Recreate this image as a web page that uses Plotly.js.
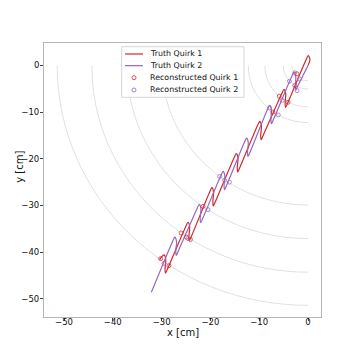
<!DOCTYPE html>
<html>
<head>
<meta charset="utf-8">
<script src="https://cdn.plot.ly/plotly-3.0.1.min.js"></script>
<style>
  html, body { margin: 0; padding: 0; background: #fff; }
  #chart { width: 357px; height: 357px; }
</style>
</head>
<body>
<div id="chart"></div>
<script>
// Detector layer radii (cm)
const layerRadii = [3.3, 5.05, 8.85, 12.25, 29.9, 37.1, 44.3, 51.4];

// Truth trajectories, points along the curves (cm)
const truth1X = [0, 0.4, 0.05, -0.4,
    -4.15, -4.6, -4.7, -4.57, -4.92, -5.37,
    -9.15, -9.6, -9.7, -9.55, -9.9, -10.35,
    -13.95, -14.4, -14.5, -14.35, -14.7, -15.15,
    -18.95, -19.4, -19.5, -19.35, -19.7, -20.15,
    -23.85, -24.3, -24.4, -24.25, -24.6, -25.05,
    -28.75, -29.2, -29.3, -29.15, -29.5, -30.0, -30.4];
const truth1Y = [0, 1.2, 2.1, 1.2,
    -8.0, -9.0, -8.1, -6.04, -5.14, -6.04,
    -14.9, -15.9, -15.0, -12.9, -12.0, -12.9,
    -21.8, -22.8, -21.9, -19.8, -18.9, -19.8,
    -29.1, -30.1, -29.2, -27.1, -26.2, -27.1,
    -36.5, -37.5, -36.6, -34.5, -33.6, -34.5,
    -43.5, -44.5, -43.6, -41.5, -40.6, -41.0, -41.6];
const truth2X = [0, -2.05, -2.5, -2.6, -2.52, -2.87, -3.32,
    -7.05, -7.5, -7.6, -7.51, -7.86, -8.31,
    -11.85, -12.3, -12.4, -12.25, -12.6, -13.05,
    -16.65, -17.1, -17.2, -17.05, -17.4, -17.85,
    -21.55, -22.0, -22.1, -21.95, -22.3, -22.75,
    -26.55, -27.0, -27.1, -26.95, -27.3, -27.75,
    -32.1];
const truth2Y = [0, -4.3, -5.3, -4.4, -2.33, -1.43, -2.33,
    -11.5, -12.5, -11.6, -9.47, -8.57, -9.47,
    -18.5, -19.5, -18.6, -16.5, -15.6, -16.5,
    -25.6, -26.6, -25.7, -23.6, -22.7, -23.6,
    -32.7, -33.7, -32.8, -30.7, -29.8, -30.7,
    -39.7, -40.7, -39.8, -37.7, -36.8, -37.7,
    -48.6];

// Reconstructed hits (cm)
const reco1X = [-2.25, -2.7, -5.9, -4.1, -7.2, -21.5, -26.0, -24.9, -24.1, -30.2, -28.5];
const reco1Y = [-1.8, -4.3, -6.6, -7.9, -10.0, -30.2, -35.9, -36.8, -37.3, -41.4, -42.9];
const reco2X = [-2.7, -3.8, -1.7, -2.25, -7.9, -6.1, -5.3, -18.1, -17.1, -16.1, -20.5, -24.6, -29.5];
const reco2Y = [-1.6, -3.4, -2.9, -5.4, -9.1, -10.6, -7.5, -23.8, -24.6, -25.0, -30.9, -37.1, -42.4];

const xTicks = [-50, -40, -30, -20, -10, 0];
const yTicks = [-50, -40, -30, -20, -10, 0];

const seriesNames = ['Truth Quirk 1', 'Truth Quirk 2', 'Reconstructed Quirk 1', 'Reconstructed Quirk 2'];

const red = '#d62728', purple = '#9467bd';
const font = 'DejaVu Sans, sans-serif';

// quarter arcs in the third quadrant, as cubic bezier paths
const k = 0.5523;
const layerShapes = layerRadii.map(r => ({
    type: 'path',
    xref: 'x', yref: 'y',
    path: `M ${-r},0 C ${-r},${-k * r} ${-k * r},${-r} 0,${-r}`,
    line: {color: '#d9d9d9', width: 0.8},
    layer: 'below'
}));

const data = [
    {x: truth1X, y: truth1Y, name: seriesNames[0], mode: 'lines',
     line: {color: red, width: 1.2, shape: 'spline', smoothing: 0.9}},
    {x: truth2X, y: truth2Y, name: seriesNames[1], mode: 'lines',
     line: {color: purple, width: 1.2, shape: 'spline', smoothing: 0.9}},
    {x: reco1X, y: reco1Y, name: seriesNames[2], mode: 'markers',
     marker: {symbol: 'circle-open', size: 4, color: red, opacity: 0.75, line: {width: 1}}},
    {x: reco2X, y: reco2Y, name: seriesNames[3], mode: 'markers',
     marker: {symbol: 'circle-open', size: 4, color: purple, opacity: 0.75, line: {width: 1}}}
];

// Compact matplotlib-like legend built from shapes and annotations (paper coords)
const legRows = [0.9599, 0.9172, 0.8734, 0.8285];
const legColors = [red, purple, red, purple];
const legendShapes = [{
    type: 'rect', xref: 'paper', yref: 'paper',
    x0: 0.2805, x1: 0.722, y0: 0.8018, y1: 0.9865,
    fillcolor: 'rgba(255,255,255,0.85)',
    line: {color: '#d6d6d6', width: 1},
    layer: 'above'
}];
legRows.forEach((yy, i) => {
    if (i < 2) {
        legendShapes.push({
            type: 'line', xref: 'paper', yref: 'paper',
            x0: 0.2924, x1: 0.3574, y0: yy, y1: yy,
            line: {color: legColors[i], width: 1.2}, layer: 'above'
        });
    } else {
        legendShapes.push({
            type: 'circle', xref: 'paper', yref: 'paper',
            xsizemode: 'pixel', ysizemode: 'pixel',
            xanchor: 0.3249, yanchor: yy,
            x0: -2, x1: 2, y0: -2, y1: 2,
            line: {color: legColors[i], width: 1}, opacity: 0.8, layer: 'above'
        });
    }
});
const legendAnnotations = legRows.map((yy, i) => ({
    xref: 'paper', yref: 'paper', x: 0.3765, y: yy,
    xanchor: 'left', yanchor: 'middle', showarrow: false,
    text: seriesNames[i],
    font: {family: font, size: 7.9, color: '#111'}
}));

const titleAnnotations = [
    {xref: 'paper', yref: 'paper', x: 0.5007, y: -0.0573,
     xanchor: 'center', yanchor: 'middle', showarrow: false,
     text: 'x [cm]', font: {family: font, size: 10, color: '#111'}},
    {xref: 'paper', yref: 'paper', x: -0.0866, y: 0.5485,
     xanchor: 'center', yanchor: 'middle', showarrow: false, textangle: -90,
     text: 'y [cm]', font: {family: font, size: 10, color: '#111'}}
];

const axisCommon = {
    showgrid: false,
    zeroline: false,
    showline: true,
    mirror: true,
    linecolor: '#b5b5b5',
    linewidth: 1,
    ticks: 'outside',
    ticklen: 3,
    tickcolor: '#444',
    tickfont: {family: font, size: 8.5, color: '#111'}
};

const layout = {
    width: 357,
    height: 357,
    paper_bgcolor: '#fff',
    plot_bgcolor: '#fff',
    font: {family: font, color: '#111'},
    margin: {l: 44, r: 36, t: 43, b: 40},
    xaxis: Object.assign({}, axisCommon, {
        range: [-54.1, 2.66],
        tickvals: xTicks,
        ticklabelstandoff: -6
    }),
    yaxis: Object.assign({}, axisCommon, {
        range: [-53.9, 4.8],
        tickvals: yTicks,
        ticklabelstandoff: -1
    }),
    shapes: layerShapes.concat(legendShapes),
    annotations: legendAnnotations.concat(titleAnnotations),
    showlegend: false
};

Plotly.newPlot('chart', data, layout, {displayModeBar: false, staticPlot: true});
</script>
</body>
</html>
